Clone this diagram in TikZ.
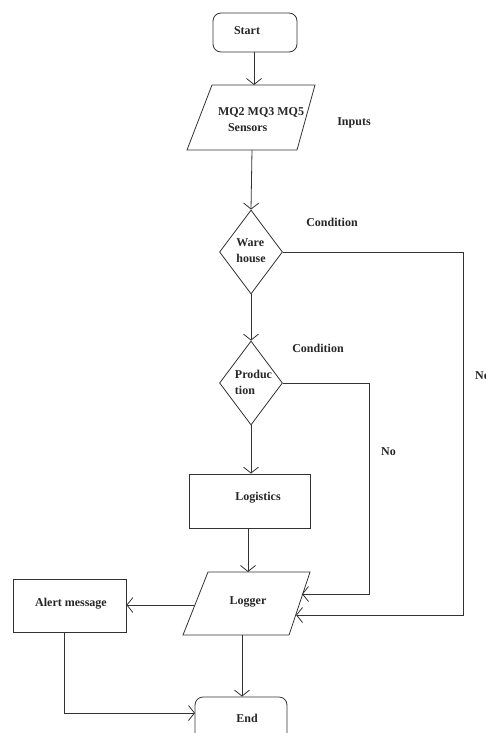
\documentclass[tikz,border=0pt]{standalone}
\usepackage{fontspec}
\setmainfont{Liberation Serif}
\usetikzlibrary{shapes.geometric,arrows.meta}
\begin{document}
\begin{tikzpicture}[x=1pt,y=-1pt,
  ln/.style={draw=black!80, line width=0.8pt},
  arr/.style={ln,-{Straight Barb[length=6pt,width=15pt]}},
  txt/.style={font=\bfseries\fontsize{12}{16}\selectfont, text=black!85, inner sep=0pt},
  rbox/.style={ln, rounded corners=8pt, minimum width=84pt, minimum height=39pt, inner sep=0pt},
  pbox/.style={ln, minimum width=121pt, minimum height=54pt, inner sep=0pt},
  dia/.style={ln, diamond, minimum width=63pt, minimum height=84pt, inner sep=0pt}
]
\path[use as bounding box] (0,0) rectangle (485,733);
\clip (0,0) rectangle (485,733);

% Start
\node[rbox] (start) at (255,32.5) {};
\node[txt] (starttxt) at (247,31) {Start};

% Inputs parallelogram
\draw[ln] (212,85) -- (315,85) -- (297,150) -- (187,150) -- cycle;
\coordinate (inTop) at (254,85);
\coordinate (inBot) at (252,150);
\node[txt, align=left] (intxt) at (261,120) {MQ2 MQ3 MQ5\\\hspace*{10pt}Sensors};
\node[txt] (inputs) at (354,123) {Inputs};

% Warehouse
\node[dia] (ware) at (251,252) {};
\node[txt, align=left] (waretxt) at (251,250.5) {Ware\\house};
\node[txt] (cond1) at (332,222) {Condition};

% Production
\node[dia] (prod) at (251,383) {};
\node[txt, align=left] (prodtxt) at (253.5,382) {Produc\\tion};
\node[txt] (cond2) at (318,348) {Condition};

% Logistics
\node[pbox] (logi) at (249.5,501) {};
\node[txt] (logitxt) at (258,498) {Logistics};

% Logger parallelogram
\draw[ln] (208,572) -- (310,572) -- (289,635) -- (183,635) -- cycle;
\coordinate (logTop) at (248,572);
\coordinate (logR1) at (302,594);
\coordinate (logR2) at (296,615);
\coordinate (logL) at (195,605);
\coordinate (logBot) at (242,635);
\node[txt] (logtxt) at (248,602) {Logger};

% Alert
\node[ln, minimum width=113pt, minimum height=53pt, inner sep=0pt] (alert) at (69.5,605.5) {};
\node[txt] (alerttxt) at (71,604) {Alert message};

% End
\node[rbox, minimum width=92pt, minimum height=70pt] (end) at (241,732) {};
\node[txt] (endtxt) at (247,718) {End};

% No labels
\node[txt] (no1) at (388.5,452) {No};
\node[txt, anchor=west] (no2) at (475,376) {No};

% connectors
\draw[arr] (start.south -| inTop) -- (inTop);
\draw[arr] (inBot) -- (ware.north);
\draw[arr] (ware.south) -- (prod.north);
\draw[arr] (prod.south) -- (prod.south |- logi.north);
\draw[arr] (logi.south -| logTop) -- (logTop);
\coordinate (wc1) at (463,252);
\coordinate (wc2) at (463,615);
\draw[arr] (ware.east) -- (wc1) -- (wc2) -- (logR2);
\coordinate (pc1) at (369,383);
\coordinate (pc2) at (369,594);
\draw[arr] (prod.east) -- (pc1) -- (pc2) -- (logR1);
\draw[arr] (logL) -- (logL -| alert.east);
\draw[arr] (logBot) -- (logBot |- end.north);
\coordinate (ac1) at (64,632);
\coordinate (ac2) at (64,713);
\coordinate (endL) at (195,713);
\draw[arr] (ac1) -- (ac2) -- (endL);
\end{tikzpicture}
\end{document}
